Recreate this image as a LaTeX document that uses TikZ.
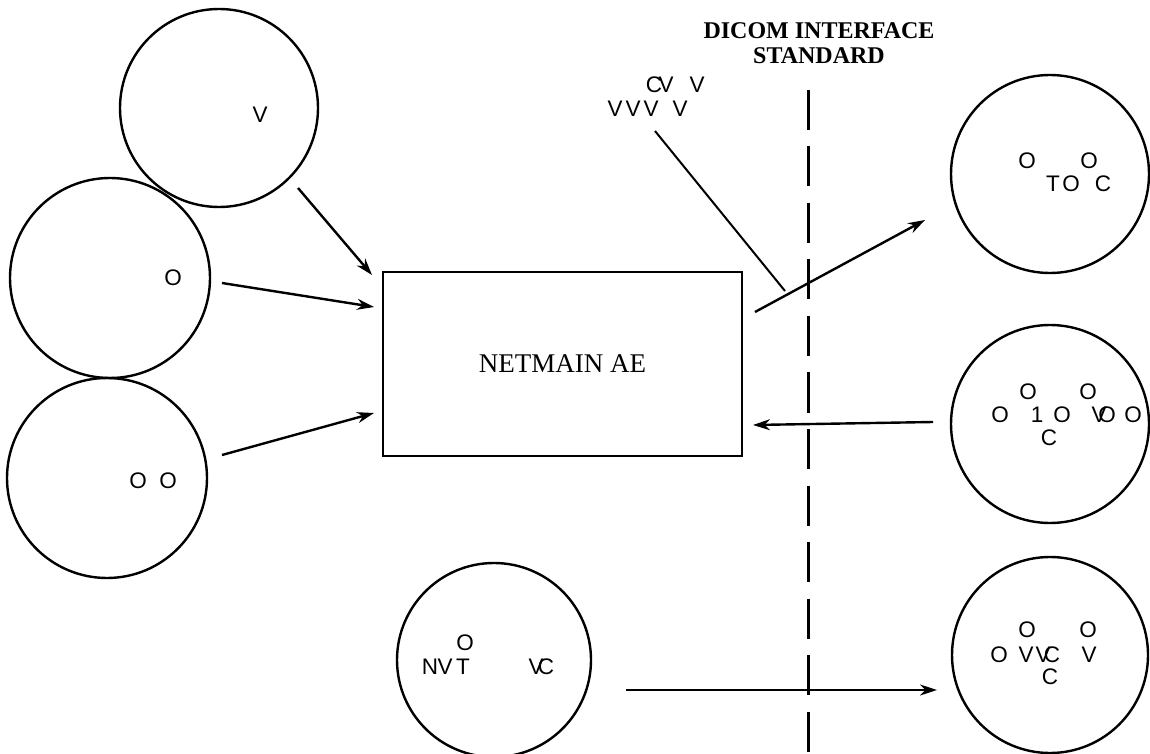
\documentclass[tikz,border=0pt]{standalone}
\usepackage{fontspec}
\setmainfont{Liberation Serif}
\newfontfamily\glyphfont{Liberation Sans}
\usepackage{tikz}
\usetikzlibrary{arrows.meta,positioning,calc}

\tikzset{
  entity/.style={circle, draw, line width=2.4pt, inner sep=0pt},
  glyph/.style={inner sep=0pt, font=\glyphfont\fontsize{22.5}{26}\selectfont},
  flow/.style={line width=2.4pt, -{Stealth[length=17pt,width=11pt]}},
}

\begin{document}
\begin{tikzpicture}[x=1pt, y=1pt]
        \useasboundingbox (0,0) rectangle (1150,753);

        % Application entity
        \node[draw, line width=1.8pt, minimum width=359pt, minimum height=184pt,
              font=\fontsize{27}{30}\selectfont] (ae) at (562.5,389) {NETMAIN AE};

        % Local entities
        \node[entity, minimum size=198pt] (src1) at (219,645) {};
        \node[entity, minimum size=200pt] (src2) at (110,475) {};
        \node[entity, minimum size=200pt] (src3) at (107,275) {};
        \node[entity, minimum size=194pt] (src4) at (494,93) {};

        % Remote entities
        \node[entity, minimum size=198pt] (rem1) at (1050,579) {};
        \node[entity, minimum size=198pt] (rem2) at (1050,329) {};
        \node[entity, minimum size=196pt] (rem3) at (1050,98) {};

        % Broken labels
        \foreach \t/\x/\y [count=\i] in {V/260/638, O/173/475, O/138/272, O/168/272,
            O/465/110, N/430/86, V/445/86, T/463/86, V/536/86, C/546/86,
            O/1027/592, O/1089/592, T/1053/569, O/1071/569, C/1103/569,
            O/1028/361, O/1088/361, O/1000/338, 1/1037/338, O/1062/338, V/1099/338, O/1107/338, O/1133/338, C/1049/315,
            O/1027/123, O/1088/123, O/999/98, V/1026/98, V/1043/98, C/1052/98, V/1089/98, C/1050/76,
            C/654/668, V/666/668, V/697/668, V/615/644, V/633/644, V/651/644, V/680/644}
            \node[glyph] (g\i) at (\x,\y) {\t};

        % Interface boundary
        \node[font=\bfseries\fontsize{24}{25}\selectfont, align=center] (std) at (819,710) {DICOM INTERFACE\\STANDARD};
        \coordinate (bndtop) at (808,663);
        \coordinate (bndbot) at (808,0);
        \draw[line width=3pt, dash pattern=on 40pt off 16.5pt] (bndtop) -- (bndbot);

        % Arrow ends
        \coordinate (s1) at (298,565);  \coordinate (t1) at (372,478);
        \coordinate (s2) at (222,470);  \coordinate (t2) at (374,446);
        \coordinate (s3) at (222,298);  \coordinate (t3) at (374,340);
        \coordinate (s4) at (755,441);  \coordinate (t4) at (925,533);
        \coordinate (s5) at (933,331);  \coordinate (t5) at (753,328);
        \coordinate (s6) at (626,63);   \coordinate (t6) at (937,63);
        \coordinate (lead) at (655,622); \coordinate (leadend) at (785,462);

        \draw[flow] (s1) -- (t1);
        \draw[flow] (s2) -- (t2);
        \draw[flow] (s3) -- (t3);
        \draw[flow] (s4) -- (t4);
        \draw[flow] (s5) -- (t5);
        \draw[flow] (s6) -- (t6);
        \draw[line width=2pt] (lead) -- (leadend);
    \end{tikzpicture}
\end{document}
